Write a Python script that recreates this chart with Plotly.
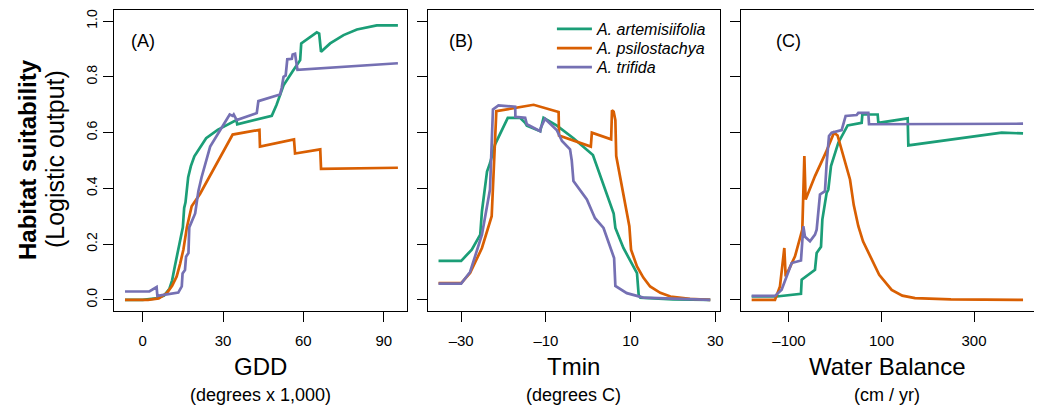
import plotly.graph_objects as go

# ---------------- data ----------------
species = ["A. artemisiifolia", "A. psilostachya", "A. trifida"]
colors = ["#1B9E77", "#D95F02", "#7570B3"]

# Panel A: GDD
gdd_art_x = [-6.6, 0, 5, 8, 10, 11, 12, 13, 14, 15, 15.5, 16, 17, 18, 19.3, 21, 23.7, 28, 33.9, 35, 35.3, 40, 48.2, 50, 52.6, 56, 58.8, 59.2, 62, 65, 65.9, 66.6, 70, 75, 80, 87.4, 95.3]
gdd_art_y = [0.0, 0.0, 0.005, 0.015, 0.04, 0.07, 0.12, 0.17, 0.22, 0.26, 0.33, 0.35, 0.44, 0.48, 0.515, 0.54, 0.58, 0.61, 0.64, 0.645, 0.63, 0.64, 0.66, 0.70, 0.77, 0.82, 0.86, 0.92, 0.94, 0.96, 0.955, 0.89, 0.92, 0.95, 0.97, 0.985, 0.985]

gdd_psi_x = [-6.6, 2, 6, 9, 11, 12.7, 14, 15.2, 16.5, 18.3, 21.4, 27, 33.6, 43.6, 43.8, 56.5, 56.9, 66.3, 66.6, 95.3]
gdd_psi_y = [0.0, 0.0, 0.005, 0.024, 0.05, 0.084, 0.13, 0.18, 0.26, 0.336, 0.38, 0.48, 0.593, 0.61, 0.55, 0.576, 0.525, 0.54, 0.47, 0.474]

gdd_tri_x = [-6.6, 2.5, 5.2, 5.5, 13.3, 14.6, 14.9, 15.8, 16.2, 17.1, 17.4, 19.6, 20.8, 22, 25.2, 29, 32, 32.5, 33.6, 34, 35.1, 42.6, 43.2, 51.3, 51.9, 52.6, 53.4, 54, 55.7, 56, 56.9, 57.8, 95.3]
gdd_tri_y = [0.03, 0.03, 0.046, 0.014, 0.026, 0.048, 0.095, 0.107, 0.155, 0.168, 0.26, 0.31, 0.39, 0.44, 0.55, 0.61, 0.66, 0.665, 0.66, 0.665, 0.645, 0.67, 0.713, 0.737, 0.76, 0.80, 0.805, 0.863, 0.865, 0.88, 0.883, 0.825, 0.849]

# Panel B: Tmin
tmin_art_x = [-35.35, -30, -27.5, -25.5, -25.1, -23.9, -23.2, -22, -19, -16.1, -14.9, -14.5, -11.35, -10.56, -7.4, -3.5, 1.1, 4.4, 6.0, 6.4, 8.3, 11.5, 11.9, 12.3, 20, 28.8]
tmin_art_y = [0.14, 0.14, 0.18, 0.234, 0.318, 0.46, 0.49, 0.558, 0.653, 0.653, 0.635, 0.625, 0.605, 0.653, 0.625, 0.58, 0.52, 0.38, 0.31, 0.258, 0.186, 0.096, 0.018, 0.008, 0.002, 0.0]

tmin_psi_x = [-35.35, -30, -27.9, -25.1, -22.8, -21.7, -12.9, -7.0, -6.9, 0.6, 0.85, 5.4, 5.6, 6.0, 6.4, 6.6, 9.7, 10.1, 11.5, 13, 14.6, 17, 19.4, 24, 28.8]
tmin_psi_y = [0.06, 0.06, 0.096, 0.186, 0.30, 0.677, 0.70, 0.674, 0.59, 0.55, 0.60, 0.576, 0.68, 0.675, 0.645, 0.516, 0.264, 0.18, 0.12, 0.08, 0.048, 0.025, 0.012, 0.004, 0.0]

tmin_tri_x = [-35.35, -30, -27.9, -25.1, -23.2, -22.5, -21.2, -17.25, -17.2, -14.9, -14.5, -11.35, -11.2, -10.2, -7.4, -6.2, -4.3, -3.9, -3.5, -0.33, 1.1, 1.6, 3.6, 5.6, 6.1, 6.4, 9.1, 13, 28.8]
tmin_tri_y = [0.058, 0.058, 0.10, 0.234, 0.396, 0.683, 0.698, 0.693, 0.657, 0.653, 0.63, 0.605, 0.618, 0.65, 0.608, 0.57, 0.54, 0.50, 0.426, 0.36, 0.31, 0.293, 0.258, 0.168, 0.15, 0.05, 0.024, 0.008, 0.0]

# Panel C: Water balance
wb_art_x = [-180.7, -126.7, -74.1, -72.6, -43.8, -40.2, -30.8, -27.9, -18.6, -15, -9.2, 6.7, 26.8, 57.1, 58.6, 91.7, 93.2, 156.6, 158, 359.8, 406]
wb_art_y = [0.012, 0.012, 0.022, 0.072, 0.108, 0.168, 0.19, 0.288, 0.384, 0.396, 0.48, 0.564, 0.626, 0.635, 0.665, 0.665, 0.635, 0.651, 0.554, 0.60, 0.597]

wb_psi_x = [-180.7, -130.3, -119.5, -110.1, -107.2, -87, -71.2, -66.8, -64, -43.8, -20, -2.7, 5, 13.9, 22, 31.9, 40, 49.9, 60, 78.7, 95, 122, 145, 172.4, 250, 406]
wb_psi_y = [0.0, 0.0, 0.048, 0.186, 0.084, 0.156, 0.252, 0.516, 0.36, 0.444, 0.53, 0.60, 0.59, 0.54, 0.49, 0.432, 0.34, 0.264, 0.21, 0.144, 0.09, 0.036, 0.015, 0.006, 0.002, 0.0]

wb_tri_x = [-180.7, -130.3, -115.9, -94.2, -74.1, -69, -65.4, -54.6, -43.8, -40.2, -33, -22.2, -18.6, -13.5, -7.7, 13.9, 22.5, 46.3, 49.9, 71.5, 73, 406]
wb_tri_y = [0.014, 0.014, 0.036, 0.132, 0.141, 0.264, 0.226, 0.21, 0.234, 0.252, 0.378, 0.39, 0.49, 0.588, 0.60, 0.609, 0.66, 0.663, 0.671, 0.671, 0.63, 0.632]

panel_labels = ["(A)", "(B)", "(C)"]
x_titles = ["GDD", "Tmin", "Water Balance"]
x_subtitles = ["(degrees x 1,000)", "(degrees C)", "(cm / yr)"]
x_tickvals = [[0, 30, 60, 90], [-30, -10, 10, 30], [-100, 100, 300]]
y_tickvals = [0.0, 0.2, 0.4, 0.6, 0.8, 1.0]
y_ticktext = ["0.0", "0.2", "0.4", "0.6", "0.8", "1.0"]

panels = [
    [(gdd_art_x, gdd_art_y), (gdd_psi_x, gdd_psi_y), (gdd_tri_x, gdd_tri_y)],
    [(tmin_art_x, tmin_art_y), (tmin_psi_x, tmin_psi_y), (tmin_tri_x, tmin_tri_y)],
    [(wb_art_x, wb_art_y), (wb_psi_x, wb_psi_y), (wb_tri_x, wb_tri_y)],
]
x_ranges = [[-10.7, 98.7], [-37.9, 31.1], [-203.8, 429.7]]
domains = [[0.0, 0.3185], [0.341, 0.6587], [0.6815, 1.0]]
legend_names = ["legend", "legend2", "legend3"]
legend_y = [0.9934, 0.9292, 0.8661]

FONT = "Liberation Sans, Arial, Helvetica, sans-serif"

fig = go.Figure()
for p, series in enumerate(panels):
    xa = "x" if p == 0 else f"x{p+1}"
    ya = "y" if p == 0 else f"y{p+1}"
    for s, (xs, ys) in enumerate(series):
        fig.add_trace(go.Scatter(
            x=xs, y=ys, mode="lines", xaxis=xa, yaxis=ya,
            line=dict(color=colors[s], width=2.7),
            name=f"<i>{species[s]}</i>", showlegend=(p == 1),
            legend=legend_names[s],
        ))

axis_common = dict(showline=True, mirror=True, linecolor="black", linewidth=1.3,
                   ticks="outside", ticklen=10, tickwidth=1.3, tickcolor="black",
                   showgrid=False, zeroline=False)

layout = dict(
    width=1034, height=398,
    margin=dict(l=106, r=8, t=2, b=95),
    paper_bgcolor="white", plot_bgcolor="white",
    font=dict(family=FONT, color="black"),
    showlegend=True,
)
for i, ln in enumerate(legend_names):
    layout[ln] = dict(x=0.476, y=legend_y[i], xanchor="left", yanchor="top",
                      bgcolor="rgba(0,0,0,0)", font=dict(size=16, color="black"),
                      itemwidth=35)
for p in range(3):
    xk = "xaxis" if p == 0 else f"xaxis{p+1}"
    yk = "yaxis" if p == 0 else f"yaxis{p+1}"
    anchor_y = "y" if p == 0 else f"y{p+1}"
    anchor_x = "x" if p == 0 else f"x{p+1}"
    layout[xk] = dict(axis_common, domain=domains[p], range=x_ranges[p], anchor=anchor_y,
                      tickvals=x_tickvals[p],
                      ticktext=[str(v).replace("-", "\u2013") for v in x_tickvals[p]],
                      tickfont=dict(size=15, color="black"), ticklabelstandoff=6)
    layout[yk] = dict(axis_common, domain=[0, 1], range=[-0.04, 1.04], anchor=anchor_x,
                      tickvals=y_tickvals, ticktext=y_ticktext, tickangle=-90,
                      tickfont=dict(size=14, color="black"),
                      showticklabels=(p == 0), ticklabelstandoff=0)
fig.update_layout(**layout)

annotations = []
for p in range(3):
    xr = "x domain" if p == 0 else f"x{p+1} domain"
    xd = "x" if p == 0 else f"x{p+1}"
    yd = "y" if p == 0 else f"y{p+1}"
    annotations.append(dict(text=panel_labels[p], x=x_tickvals[p][0], y=0.93, xref=xd, yref=yd,
                            showarrow=False, font=dict(size=18), xanchor="center", yanchor="middle"))
    annotations.append(dict(text=x_titles[p], x=0.5, y=-0.1844, xref=xr, yref="paper",
                            showarrow=False, font=dict(size=24), xanchor="center", yanchor="middle"))
    annotations.append(dict(text=x_subtitles[p], x=0.5, y=-0.279, xref=xr, yref="paper",
                            showarrow=False, font=dict(size=18), xanchor="center", yanchor="middle"))
annotations.append(dict(text="<b>Habitat suitability</b>", x=-0.0935, y=0.505, xref="paper", yref="paper",
                        textangle=-90, showarrow=False, font=dict(size=24), xanchor="center", yanchor="middle"))
annotations.append(dict(text="(Logistic output)", x=-0.0641, y=0.505, xref="paper", yref="paper",
                        textangle=-90, showarrow=False, font=dict(size=25), xanchor="center", yanchor="middle"))
fig.update_layout(annotations=annotations)

fig.write_html("out.html")
